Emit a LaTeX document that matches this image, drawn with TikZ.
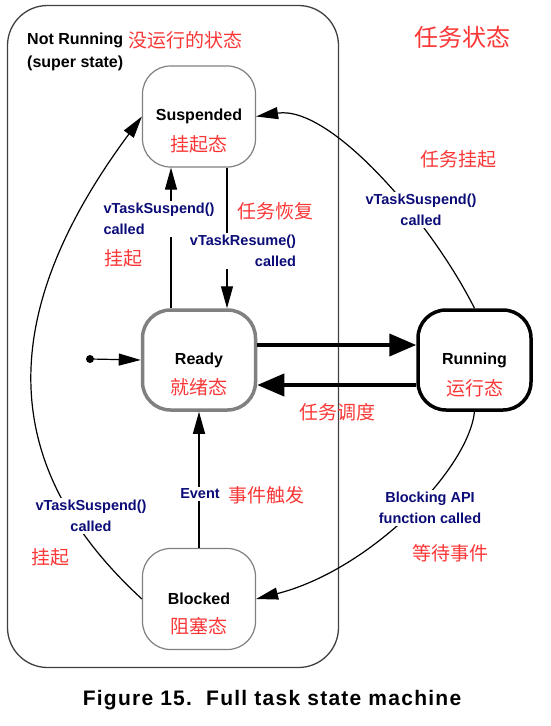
\documentclass[tikz,border=0pt]{standalone}
\usepackage{fontspec}
\setmainfont{Liberation Sans}
\newfontfamily\cjk{Noto Sans CJK SC}
\usetikzlibrary{arrows.meta, positioning}
\definecolor{cnred}{RGB}{250,55,55}
\definecolor{evtblue}{RGB}{12,12,120}

\begin{document}
\begin{tikzpicture}[
    x=1pt, y=-1pt,
    superstate/.style={rectangle, draw=black!75, line width=1.3pt, rounded corners=40pt, minimum width=331pt, minimum height=662pt},
    statebox/.style={rectangle, draw=gray, line width=1.2pt, rounded corners=28pt, minimum width=113pt, minimum height=101pt, font=\fontsize{16}{19}\selectfont\bfseries},
    readybox/.style={statebox, line width=3.5pt, minimum width=113pt, minimum height=100pt},
    runbox/.style={readybox, draw=black},
    cn/.style={text=cnred, font=\cjk\fontsize{19}{22}\selectfont, inner sep=0pt},
    evt/.style={text=evtblue, font=\fontsize{14.5}{20.5}\selectfont\bfseries, fill=white, inner sep=2pt, align=center},
    arr/.style={-{Triangle[length=22pt,width=12pt]}, line width=1.2pt},
    bigarr/.style={-{Triangle[length=27pt,width=22pt]}, line width=4pt},
    capt/.style={font=\fontsize{21}{24}\selectfont\bfseries\addfontfeature{LetterSpace=6}}
]
\useasboundingbox (0,0) rectangle (550,726);

% Super state
\node[superstate] (notrun) at (173,336.5) {};
\node[anchor=west, align=left, inner sep=0pt, font=\fontsize{16}{23}\selectfont\bfseries] (notrunname) at (27,51.5) {Not Running\\(super state)};
\node[cn, anchor=west] (notruncn) at (128,40) {没运行的状态};
\node[cn, font=\cjk\fontsize{24}{28}\selectfont] (title) at (462,37) {任务状态};

% States
\node[statebox] (susp) at (199,116.5) {Suspended};
\node[cn] (suspcn) at ([yshift=-28pt]susp.center) {挂起态};
\node[readybox] (ready) at (199,360) {Ready};
\node[cn] (readycn) at ([yshift=-27pt]ready.center) {就绪态};
\node[runbox] (running) at (474.5,360) {Running};
\node[cn] (runningcn) at ([yshift=-28pt]running.center) {运行态};
\node[statebox] (blocked) at (199,599) {Blocked};
\node[cn] (blockedcn) at ([yshift=-27pt]blocked.center) {阻塞态};

% Initial state
\node[circle, fill=black, inner sep=0pt, minimum size=8pt] (init) at (90,359) {};
\draw[arr] (init) -- (ready.west);

% Transitions
\draw[arr] ([xshift=-28pt]ready.north) -- ([xshift=-28pt]susp.south);
\draw[arr] ([xshift=28pt]susp.south) -- ([xshift=28pt]ready.north);
\draw[bigarr] ([yshift=15pt]ready.east) -- ([yshift=15pt]running.west);
\draw[bigarr] ([yshift=-25pt]running.west) -- ([yshift=-25pt]ready.east);
\draw[arr] (blocked.north) -- (ready.south);
\draw[arr] (running.north) .. controls (430,220) and (330,105) .. (susp.east);
\draw[arr] (running.south) .. controls (468,470) and (370,570) .. (blocked.east);
\draw[arr] (blocked.west) .. controls (-5,464) and (-3,312) .. (susp.west);

% Labels
\node[evt, align=left] (suspevt) at (159,219) {vTaskSuspend()\\called};
\node[cn, anchor=west] (suspevtcn) at (104,258) {挂起};
\node[evt, align=right] (resumeevt) at (243,251) {vTaskResume()\\called};
\node[cn] (resumeevtcn) at (275,211) {任务恢复};
\node[evt] (runsuspevt) at (421,210) {vTaskSuspend()\\called};
\node[cn] (runsuspevtcn) at (458,159) {任务挂起};
\node[cn] (schedcn) at (337,412) {任务调度};
\node[evt] (event) at (200,494) {Event};
\node[cn] (eventcn) at (266,495) {事件触发};
\node[evt] (blockevt) at (430,508) {Blocking API\\function called};
\node[cn] (blockevtcn) at (450,553) {等待事件};
\node[evt] (blksuspevt) at (91,516) {vTaskSuspend()\\called};
\node[cn] (blksuspevtcn) at (50,557) {挂起};

% Caption
\node[capt] (caption) at (272,700) {Figure 15.\ \ Full task state machine};

\end{tikzpicture}
\end{document}
